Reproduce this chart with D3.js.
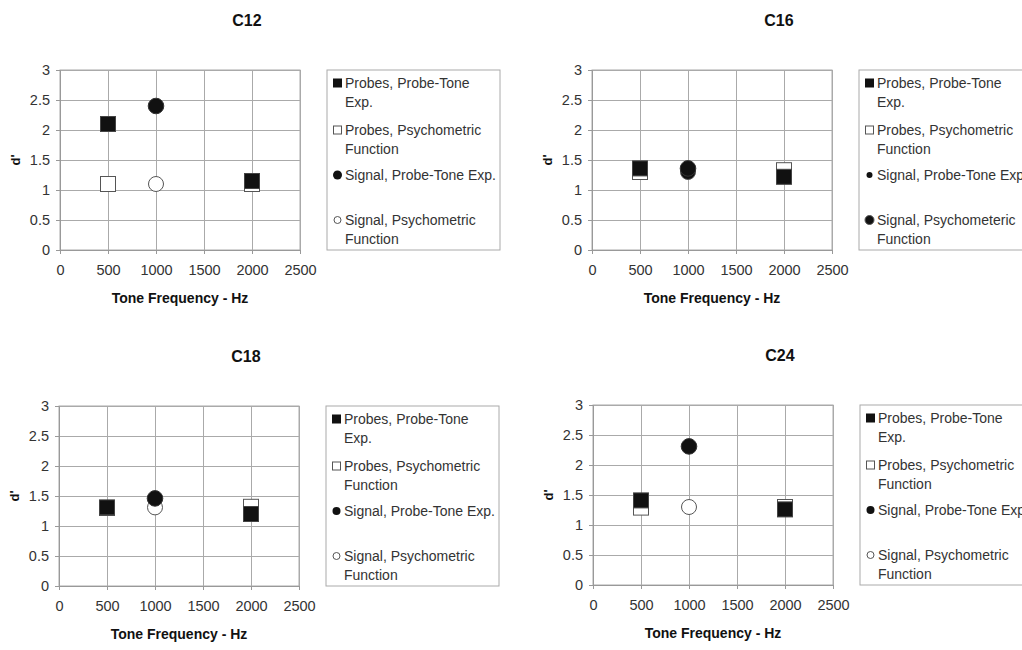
<!DOCTYPE html>
<html>
<head>
<meta charset="utf-8">
<script src="https://cdn.jsdelivr.net/npm/d3@7"></script>
<style>
  body { margin: 0; background: #fff; }
  svg { display: block; }
  .tick text { font-family: "Liberation Sans Narrow", "Liberation Sans", Arial, sans-serif; font-size: 14.5px; fill: #333; }
  .gridlines line { stroke: #aaa; }
  .gridlines path { stroke: none; }
  .axis path { stroke: #999; }
  .axis line { stroke: #999; }
</style>
</head>
<body>
<svg id="chart" width="1022" height="650"></svg>
<script>
// values
const panelNames = ["C12", "C16", "C18", "C24"];
const frequencies = [500, 1000, 2000];
const xTicks = [0, 500, 1000, 1500, 2000, 2500];
const yTicks = [0, 0.5, 1, 1.5, 2, 2.5, 3];

// one row per panel, one value per frequency (null = no point)
const probesProbeTone    = [[2.1, null, 1.15], [1.36, null, 1.22], [1.31, null, 1.2], [1.41, null, 1.26]];
const probesPsychometric = [[1.1, null, 1.1], [1.3, null, 1.33], [1.3, null, 1.32], [1.29, null, 1.3]];
const signalProbeTone    = [[null, 2.4, null], [null, 1.36, null], [null, 1.46, null], [null, 2.31, null]];
const signalPsychometric = [[null, 1.1, null], [null, 1.3, null], [null, 1.31, null], [null, 1.3, null]];

const legendLabels = [
  [["Probes, Probe-Tone", "Exp."], ["Probes, Psychometric", "Function"], ["Signal, Probe-Tone Exp."], ["Signal, Psychometric", "Function"]],
  [["Probes, Probe-Tone", "Exp."], ["Probes, Psychometric", "Function"], ["Signal, Probe-Tone Exp."], ["Signal, Psychometeric", "Function"]],
  [["Probes, Probe-Tone", "Exp."], ["Probes, Psychometric", "Function"], ["Signal, Probe-Tone Exp."], ["Signal, Psychometric", "Function"]],
  [["Probes, Probe-Tone", "Exp."], ["Probes, Psychometric", "Function"], ["Signal, Probe-Tone Exp."], ["Signal, Psychometric", "Function"]]
];

// layout
const panelPos = [{ x: 60, y: 70 }, { x: 592, y: 70 }, { x: 59, y: 406 }, { x: 593, y: 405 }];
const plotW = 240, plotH = 180;

// per-panel look of the "Signal, Psychometric" series (C16 draws it filled)
const sigPsyFilled = [false, true, false, false];
// legend marker radii for the two circle entries
const legendCircleR = [[4.5, 3.5], [3, 4.5], [4, 3.5], [4, 3.5]];

const svg = d3.select("#chart");

panelNames.forEach((name, i) => {
  const pos = panelPos[i];
  const g = svg.append("g").attr("transform", `translate(${pos.x},${pos.y})`);

  const x = d3.scaleLinear().domain([0, 2500]).range([0, plotW]);
  const y = d3.scaleLinear().domain([0, 3]).range([plotH, 0]);

  // title
  svg.append("text")
    .attr("x", pos.x + 187).attr("y", pos.y - 44)
    .attr("text-anchor", "middle")
    .style("font-family", "Liberation Sans, Arial, sans-serif")
    .style("font-weight", "bold").style("font-size", "16px").style("fill", "#111")
    .text(name);

  // gridlines
  g.append("g").attr("class", "gridlines")
    .call(d3.axisLeft(y).tickValues(yTicks).tickSize(-plotW).tickFormat(""));
  g.append("g").attr("class", "gridlines")
    .attr("transform", `translate(0,${plotH})`)
    .call(d3.axisBottom(x).tickValues(xTicks).tickSize(-plotH).tickFormat(""));

  // plot border
  g.append("rect").attr("width", plotW).attr("height", plotH)
    .attr("fill", "none").attr("stroke", "#aaa");

  // axes
  g.append("g").attr("class", "axis")
    .attr("transform", `translate(0,${plotH})`)
    .call(d3.axisBottom(x).tickValues(xTicks).tickSize(4).tickPadding(11).tickFormat(d3.format("d")));
  g.append("g").attr("class", "axis")
    .call(d3.axisLeft(y).tickValues(yTicks).tickSize(4).tickPadding(6).tickFormat(d => d));

  // axis titles
  g.append("text")
    .attr("x", plotW / 2).attr("y", plotH + 53)
    .attr("text-anchor", "middle")
    .style("font-family", "Liberation Sans, Arial, sans-serif")
    .style("font-weight", "bold").style("font-size", "14px").style("fill", "#111")
    .text("Tone Frequency - Hz");
  g.append("text")
    .attr("transform", `translate(-40,${plotH / 2}) rotate(-90)`)
    .attr("text-anchor", "middle")
    .style("font-family", "Liberation Sans, Arial, sans-serif")
    .style("font-weight", "bold").style("font-size", "13px").style("fill", "#111")
    .text("d'");

  const pts = arr => frequencies.map((f, j) => ({ f: f, v: arr[i][j] })).filter(d => d.v !== null);
  const sq = 15;

  // draw order: open markers first, filled on top
  g.selectAll(".psq").data(pts(probesPsychometric)).join("rect")
    .attr("x", d => x(d.f) - sq / 2).attr("y", d => y(d.v) - sq / 2)
    .attr("width", sq).attr("height", sq)
    .attr("fill", "#fff").attr("stroke", "#555");
  g.selectAll(".pci").data(pts(signalPsychometric)).join("circle")
    .attr("cx", d => x(d.f)).attr("cy", d => y(d.v)).attr("r", 7.5)
    .attr("fill", sigPsyFilled[i] ? "#111" : "#fff").attr("stroke", "#555");
  g.selectAll(".fsq").data(pts(probesProbeTone)).join("rect")
    .attr("x", d => x(d.f) - sq / 2).attr("y", d => y(d.v) - sq / 2)
    .attr("width", sq).attr("height", sq)
    .attr("fill", "#111").attr("stroke", "#444");
  g.selectAll(".fci").data(pts(signalProbeTone)).join("circle")
    .attr("cx", d => x(d.f)).attr("cy", d => y(d.v)).attr("r", 7.8)
    .attr("fill", "#111").attr("stroke", "#333");

  // legend
  const lg = svg.append("g").attr("transform", `translate(${pos.x + plotW + 27},${pos.y})`);
  lg.append("rect").attr("width", 173).attr("height", plotH)
    .attr("fill", "#fff").attr("stroke", "#aaa");
  const entryY = [18, 65, 110, 155];
  legendLabels[i].forEach((lines, k) => {
    const e = lg.append("g").attr("transform", `translate(0,${entryY[k]})`);
    const cy = -5;
    if (k === 0) {
      e.append("rect").attr("x", 6).attr("y", cy - 4.5).attr("width", 9).attr("height", 9).attr("fill", "#111");
    } else if (k === 1) {
      e.append("rect").attr("x", 6.5).attr("y", cy - 4).attr("width", 8).attr("height", 8).attr("fill", "#fff").attr("stroke", "#555");
    } else if (k === 2) {
      e.append("circle").attr("cx", 10.5).attr("cy", cy).attr("r", legendCircleR[i][0]).attr("fill", "#111");
    } else {
      e.append("circle").attr("cx", 10.5).attr("cy", cy).attr("r", legendCircleR[i][1])
        .attr("fill", sigPsyFilled[i] ? "#111" : "#fff").attr("stroke", "#555");
    }
    lines.forEach((t, m) => {
      e.append("text").attr("x", 18).attr("y", m * 18.5)
        .style("font-family", "Liberation Sans, Arial, sans-serif")
        .style("font-size", "14px").style("fill", "#333")
        .text(t);
    });
  });
});
</script>
</body>
</html>
